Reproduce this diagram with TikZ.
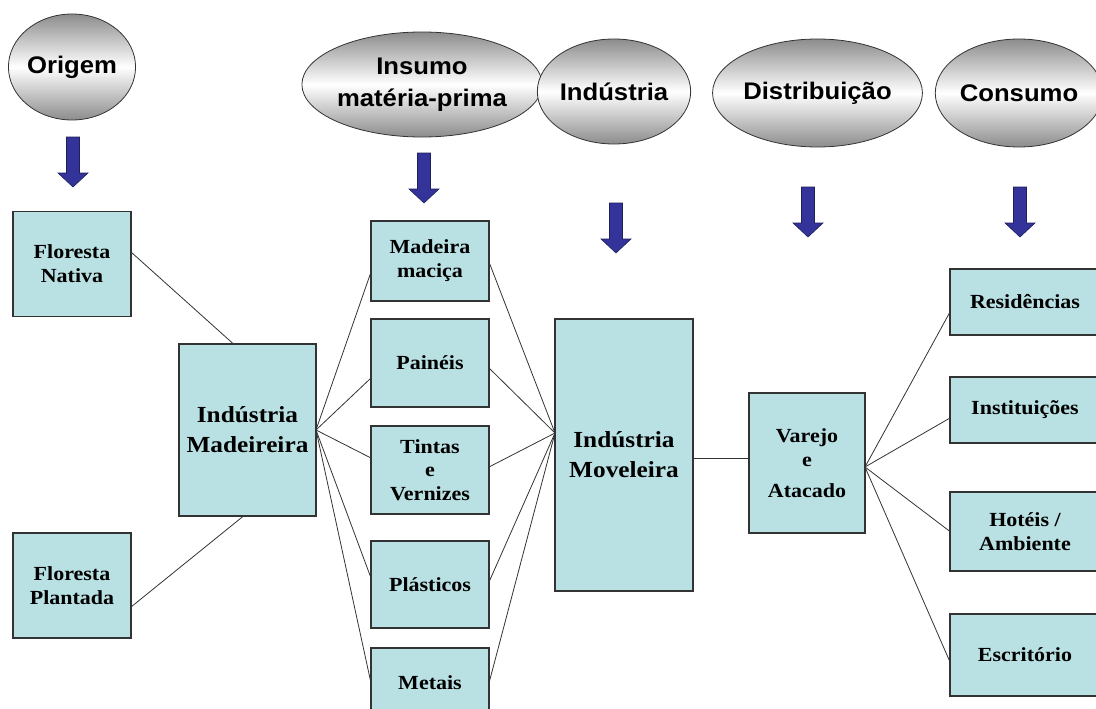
\documentclass[tikz,border=0pt]{standalone}
\usepackage{fontspec}
\usetikzlibrary{shapes.geometric,calc}
\newfontfamily\boxfont[FakeStretch=1.1]{Liberation Serif}
\newfontfamily\ellfont[FakeStretch=1.07]{Liberation Sans}
\definecolor{boxfill}{HTML}{B9E0E3}
\definecolor{arrowblue}{HTML}{333399}
\definecolor{linegray}{HTML}{333333}
\tikzset{
  stagebox/.style={draw=linegray, line width=1.1pt, fill=boxfill, inner sep=0pt, outer sep=0pt,
    align=center, font=\boxfont\bfseries\fontsize{20}{24}\selectfont},
  bigbox/.style={stagebox, font=\boxfont\bfseries\fontsize{23}{30}\selectfont},
  stage/.style={ellipse, draw=black!80, line width=0.8pt, inner sep=0pt, outer sep=0pt,
    top color=black!45, bottom color=black!45, middle color=white, align=center,
    font=\ellfont\bfseries\fontsize{24}{32}\selectfont},
  link/.style={draw=linegray, line width=0.8pt},
  blockarrow/.pic={\draw[fill=arrowblue, draw=arrowblue!60!black, line width=0.6pt]
    (-6.5,0) -- (6.5,0) -- (6.5,36) -- (15,36) -- (0,50) -- (-15,36) -- (-6.5,36) -- cycle;}
}
\begin{document}
\begin{tikzpicture}[x=1pt,y=-1pt]
\useasboundingbox (0,0) rectangle (1096,709);
% stage ellipses
\node[stage, minimum width=118pt, minimum height=106pt] (eorig) at (72,67) {Origem};
\node[stage, minimum width=214pt, minimum height=105pt] (eins) at (422,84.5) {Insumo\\mat\'eria-prima};
\node[stage, minimum width=136pt, minimum height=105pt] (eind) at (614,91.5) {Ind\'ustria};
\node[stage, minimum width=195pt, minimum height=108pt] (edist) at (817.5,93) {Distribui\c{c}\~ao};
\node[stage, minimum width=140pt, minimum height=108pt] (econs) at (1019,93) {Consumo};
% block arrows
\pic at (73,137) {blockarrow};
\pic at (424,153) {blockarrow};
\pic at (616,203) {blockarrow};
\pic at (808,187) {blockarrow};
\pic at (1020,187) {blockarrow};
% boxes
\node[stagebox, minimum width=118pt, minimum height=105pt] (nat) at (72,264) {Floresta\\Nativa};
\node[stagebox, minimum width=118pt, minimum height=105pt] (pla) at (72,585.5) {Floresta\\Plantada};
\node[bigbox, minimum width=137pt, minimum height=172pt] (mad) at (247.5,430) {Ind\'ustria\\Madeireira};
\node[stagebox, minimum width=118pt, minimum height=80pt] (mm) at (430,261) {Madeira\\maci\c{c}a};
\node[stagebox, minimum width=118pt, minimum height=88pt] (pa) at (430,363) {Pain\'eis};
\node[stagebox, minimum width=118pt, minimum height=88pt, font=\boxfont\bfseries\fontsize{20}{23.5}\selectfont] (ti) at (430,470) {Tintas\\e\\Vernizes};
\node[stagebox, minimum width=118pt, minimum height=87pt] (pl) at (430,584.5) {Pl\'asticos};
\node[stagebox, minimum width=118pt, minimum height=70pt] (me) at (430,683) {Metais};
\node[bigbox, minimum width=138pt, minimum height=272pt] (mov) at (624,455) {Ind\'ustria\\Moveleira};
\node[stagebox, minimum width=116pt, minimum height=140pt] (var) at (807,463) {Varejo\\e\\[7pt]Atacado};
\node[stagebox, minimum width=150pt, minimum height=66pt] (res) at (1025,302) {Resid\^encias};
\node[stagebox, minimum width=150pt, minimum height=66pt] (ins) at (1025,410) {Institui\c{c}\~oes};
\node[stagebox, minimum width=150pt, minimum height=79pt] (hot) at (1025,531.5) {Hot\'eis /\\Ambiente};
\node[stagebox, minimum width=150pt, minimum height=82pt] (esc) at (1025,655) {Escrit\'orio};
% connectors
\draw[link] ([yshift=12pt]nat.east) -- ([xshift=-14pt]mad.north);
\draw[link] ([yshift=-21.5pt]pla.east) -- ([xshift=-4pt]mad.south);
\draw[link] (mad.east) -- ([yshift=-11pt]mm.west);
\draw[link] (mad.east) -- ([yshift=-15pt]pa.west);
\draw[link] (mad.east) -- ([yshift=12pt]ti.west);
\draw[link] (mad.east) -- ([yshift=6.5pt]pl.west);
\draw[link] (mad.east) -- (me.west);
\draw[link] ([yshift=-1pt]mm.east) -- ([yshift=22pt]mov.west);
\draw[link] ([yshift=-5pt]pa.east) -- ([yshift=22pt]mov.west);
\draw[link] ([yshift=3pt]ti.east) -- ([yshift=22pt]mov.west);
\draw[link] ([yshift=2.5pt]pl.east) -- ([yshift=22pt]mov.west);
\draw[link] (me.east) -- ([yshift=22pt]mov.west);
\draw[link] ([yshift=5pt]var.west) -- ([yshift=5pt]var.west -| mov.east);
\draw[link] ([yshift=-4pt]var.east) -- ([yshift=-10pt]res.west);
\draw[link] ([yshift=-4pt]var.east) -- ([yshift=-8pt]ins.west);
\draw[link] ([yshift=-4pt]var.east) -- (hot.west);
\draw[link] ([yshift=-4pt]var.east) -- ([yshift=-7pt]esc.west);
\end{tikzpicture}
\end{document}
